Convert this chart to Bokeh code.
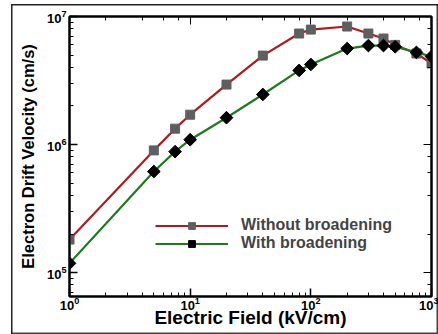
import math
from bokeh.plotting import figure
from bokeh.models import LogAxis, CustomJSTickFormatter, Legend, LegendItem
from bokeh.embed import file_html
from bokeh.resources import INLINE

# Data
field = [1, 5, 7.5, 10, 20, 40, 80, 100, 200, 300, 400, 500, 750, 1000]
v_without = [1.81e5, 9.0e5, 1.33e6, 1.71e6, 2.94e6, 4.95e6, 7.36e6, 7.9e6,
             8.35e6, 7.36e6, 6.73e6, 6.0e6, 5.14e6, 4.3e6]
v_with = [1.18e5, 6.15e5, 8.8e5, 1.09e6, 1.62e6, 2.46e6, 3.79e6, 4.22e6,
          5.62e6, 5.93e6, 5.93e6, 5.8e6, 5.24e6, 4.87e6]
label_without = "Without broadening"
label_with = "With broadening"
x_title = "Electric Field (kV/cm)"
y_title = "Electron Drift Velocity (cm/s)"

RED = "#b0191e"
GREEN = "#1e7a1e"
FONT = "Liberation Sans"

p = figure(width=438, height=334, x_axis_type="log", y_axis_type="log",
           x_range=(1, 1000), y_range=(6.5e4, 1e7),
           min_border_left=69, min_border_right=7, min_border_top=16,
           min_border_bottom=38,
           output_backend="svg", toolbar_location=None)
p.grid.visible = False
p.outline_line_color = "black"
p.outline_line_width = 2
p.border_fill_color = None
p.background_fill_color = "white"
# thin outer frame around the whole picture (drawn beneath the transparent canvas border)
p.styles = {"box-shadow": ("inset 11px 0 0 0 white, inset 0 4px 0 0 white, "
                           "inset 12.5px 0 0 0 #222, inset 0 5.5px 0 0 #222, "
                           "inset 0 -1.5px 0 0 #444, inset -1.5px 0 0 0 #444")}

r1 = p.line(field, v_without, line_color=RED, line_width=2.2)
s1 = p.scatter(field, v_without, marker="square", size=9, fill_color="#5f5f5f",
               line_color="#5f5f5f")
r2 = p.line(field, v_with, line_color=GREEN, line_width=2.2)
s2 = p.scatter(field, v_with, marker="square", angle=math.pi / 4, size=9,
               fill_color="black", line_color="black")

for ax in (p.xaxis[0], p.yaxis[0]):
    ax.axis_line_width = 2
    ax.major_tick_in = 8
    ax.major_tick_out = 0
    ax.minor_tick_in = 4
    ax.minor_tick_out = 0
    ax.major_tick_line_width = 1.5
    ax.major_label_text_font = FONT
    ax.major_label_text_font_style = "bold"
    ax.major_label_text_font_size = "13px"
    ax.major_label_text_color = "black"
    ax.axis_label_text_font = FONT
    ax.axis_label_text_font_style = "bold"
    ax.axis_label_text_color = "black"

p.xaxis[0].axis_label = x_title
p.xaxis[0].axis_label_text_font_size = "19px"
p.xaxis[0].major_label_standoff = 0
p.xaxis[0].axis_label_standoff = -6
p.yaxis[0].axis_label = y_title
p.yaxis[0].axis_label_text_font_size = "16.5px"
p.yaxis[0].major_label_standoff = 3
p.yaxis[0].axis_label_standoff = 7

blank = CustomJSTickFormatter(code="return ''")
top = LogAxis(formatter=blank, major_tick_in=8, major_tick_out=0, minor_tick_in=4,
              minor_tick_out=0, axis_line_width=2, major_label_standoff=0)
right = LogAxis(formatter=blank, major_tick_in=8, major_tick_out=0, minor_tick_in=4,
                minor_tick_out=0, axis_line_width=2, major_label_standoff=0)
p.add_layout(top, "above")
p.add_layout(right, "right")

legend = Legend(items=[LegendItem(label=label_without, renderers=[r1, s1]),
                       LegendItem(label=label_with, renderers=[r2, s2])],
                location=(86, 44), glyph_width=73, glyph_height=17,
                label_height=17, label_standoff=13, spacing=0, padding=0,
                margin=0, border_line_color=None, background_fill_alpha=0,
                label_text_font=FONT, label_text_font_style="bold",
                label_text_font_size="16px")
p.add_layout(legend)

open("out.html", "w").write(file_html(p, INLINE))
